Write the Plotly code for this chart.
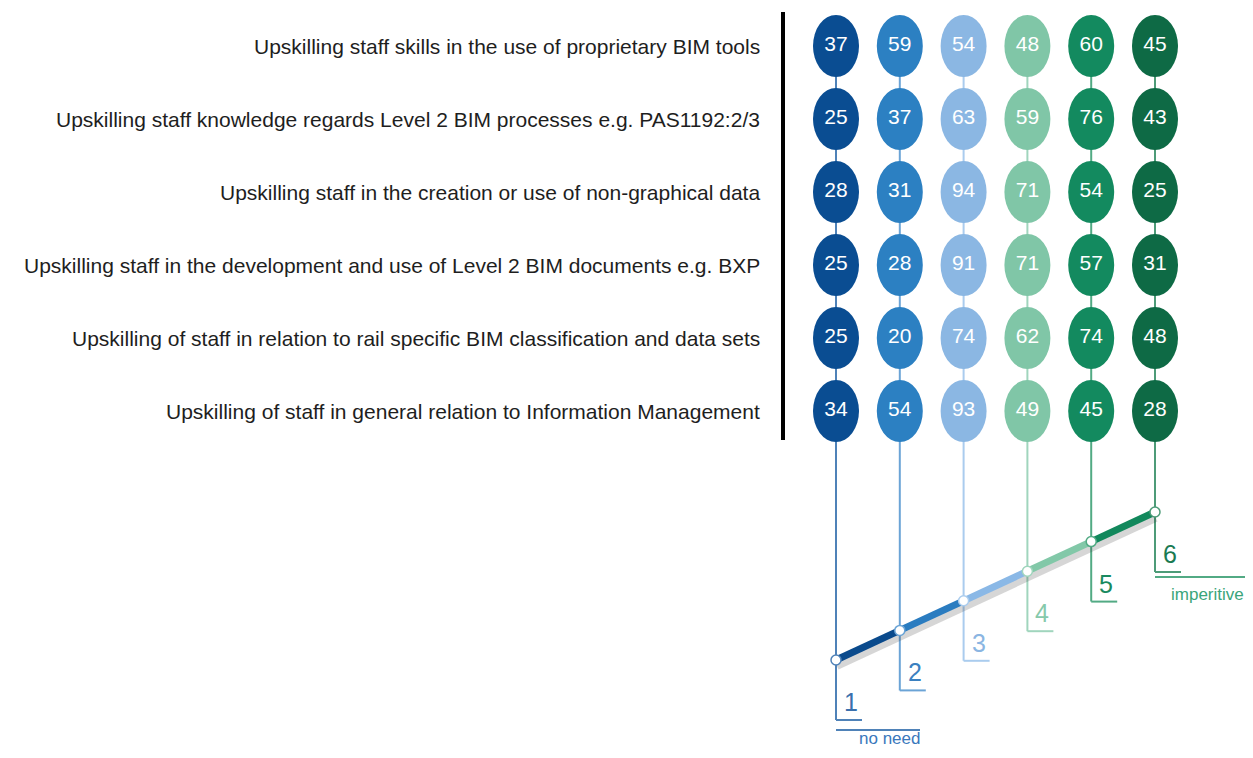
import plotly.graph_objects as go

# 数据
labels = [
    "Upskilling staff skills in the use of proprietary BIM tools",
    "Upskilling staff knowledge regards Level 2 BIM processes e.g. PAS1192:2/3",
    "Upskilling staff in the creation or use of non-graphical data",
    "Upskilling staff in the development and use of Level 2 BIM documents e.g. BXP",
    "Upskilling of staff in relation to rail specific BIM classification and data sets",
    "Upskilling of staff in general relation to Information Management",
]
levels = [1, 2, 3, 4, 5, 6]
counts = [
    [37, 59, 54, 48, 60, 45],
    [25, 37, 63, 59, 76, 43],
    [28, 31, 94, 71, 54, 25],
    [25, 28, 91, 71, 57, 31],
    [25, 20, 74, 62, 74, 48],
    [34, 54, 93, 49, 45, 28],
]
scale_low = "no need"
scale_high = "imperitive"

# 样式
circle_colors = ["#0a4d92", "#2c80c2", "#8bb7e3", "#80c6a7", "#138a5f", "#0e6a45"]
stem_colors = ["#4f82b8", "#6ba4d6", "#aaccee", "#a0d5bd", "#52aa84", "#4d9b78"]
label_colors = ["#3a70ad", "#3a80c0", "#8ab5e2", "#86c9ab", "#1a8a60", "#1a7a52"]
seg_colors = ["#0a4a8c", "#2a7cc0", "#8ab8e6", "#82c8a8", "#12885c"]
FONT = "Liberation Sans Narrow, Liberation Sans, Arial, sans-serif"

# 页面有 8px 的 body 边距, 图形尺寸相应缩小
OFF = 8
W, H = 1253 - 2 * OFF, 758 - 2 * OFF
PX_X = 63.8   # 每列像素
PX_Y = 73.0   # 每行像素
x0 = 1 - (836 - OFF) / PX_X
y0 = 1 - (46 - OFF) / PX_Y

rows = list(range(1, len(labels) + 1))

# 斜线位置 (行单位)
diag_base = 1 + (660 - 46) / PX_Y
diag_step = 29.6 / PX_Y
diag_y = [diag_base - diag_step * (lv - 1) for lv in levels]
bracket_y = [d + 60 / PX_Y for d in diag_y]

rx = 23 / PX_X
ry = 31 / PX_Y

fig = go.Figure()
shapes = []

# 竖线 + 刻度括号
for i, lv in enumerate(levels):
    shapes.append(dict(type="line", x0=lv, x1=lv, y0=rows[0], y1=bracket_y[i],
                       line=dict(color=stem_colors[i], width=2), layer="below"))
    shapes.append(dict(type="line", x0=lv, x1=lv + 26 / PX_X, y0=bracket_y[i], y1=bracket_y[i],
                       line=dict(color=stem_colors[i], width=2), layer="below"))

# 圆圈
for r, row_vals in zip(rows, counts):
    for i, lv in enumerate(levels):
        shapes.append(dict(type="circle", x0=lv - rx, x1=lv + rx, y0=r - ry, y1=r + ry,
                           fillcolor=circle_colors[i], line=dict(width=0), layer="below"))

# 黑色竖条
bar_x = 1 + (783 - 836) / PX_X
shapes.append(dict(type="line", x0=bar_x, x1=bar_x,
                   y0=1 + (12 - 46) / PX_Y, y1=1 + (440 - 46) / PX_Y,
                   line=dict(color="black", width=4)))

# no need / imperitive 下划线
low_y = diag_y[0] + 70 / PX_Y
high_y = diag_y[-1] + 65 / PX_Y
shapes.append(dict(type="line", x0=levels[0], x1=levels[0] + 84 / PX_X, y0=low_y, y1=low_y,
                   line=dict(color=stem_colors[0], width=2)))
shapes.append(dict(type="line", x0=levels[-1], x1=levels[-1] + 95 / PX_X, y0=high_y, y1=high_y,
                   line=dict(color=stem_colors[4], width=2)))

# 斜线阴影
fig.add_trace(go.Scatter(
    x=levels, y=[d + 4 / PX_Y for d in diag_y], mode="lines",
    line=dict(color="rgba(50,50,50,0.2)", width=12),
    hoverinfo="skip", showlegend=False
))

# 斜线分段
for i in range(len(levels) - 1):
    fig.add_trace(go.Scatter(
        x=levels[i:i + 2], y=diag_y[i:i + 2], mode="lines",
        line=dict(color=seg_colors[i], width=7),
        hoverinfo="skip", showlegend=False
    ))

fig.add_trace(go.Scatter(
    x=levels, y=diag_y, mode="markers",
    marker=dict(color="white", size=10, line=dict(color=stem_colors, width=1.5)),
    hoverinfo="skip", showlegend=False
))

# 圆圈数字
for r, row_vals in zip(rows, counts):
    fig.add_trace(go.Scatter(
        x=levels, y=[r] * len(levels), mode="text",
        text=[str(v) for v in row_vals],
        textfont=dict(color="white", size=21, family=FONT),
        hoverinfo="skip", showlegend=False
    ))

annotations = []
for r, lab in zip(rows, labels):
    annotations.append(dict(
        text=lab, x=(762 - OFF) / W, xref="paper", y=r, yref="y",
        xanchor="right", yanchor="middle", showarrow=False,
        font=dict(size=21, color="#1e1e1e", family=FONT)
    ))

for i, lv in enumerate(levels):
    annotations.append(dict(
        text=str(lv), x=lv + 6 / PX_X, y=bracket_y[i] - 2 / PX_Y,
        xanchor="left", yanchor="bottom", showarrow=False,
        font=dict(size=25, color=label_colors[i], family=FONT)
    ))

annotations.append(dict(
    text=scale_low, x=levels[0] + 53 / PX_X, y=0, yref="paper",
    xanchor="center", yanchor="bottom", showarrow=False,
    font=dict(size=17, color="#3a78bc", family=FONT)
))
annotations.append(dict(
    text=scale_high, x=levels[-1] + 52 / PX_X, y=high_y + 6 / PX_Y,
    xanchor="center", yanchor="top", showarrow=False,
    font=dict(size=17, color="#3aa57a", family=FONT)
))

fig.update_layout(
    width=W, height=H,
    margin=dict(l=0, r=0, t=0, b=0),
    paper_bgcolor="white",
    plot_bgcolor="white",
    shapes=shapes,
    annotations=annotations,
    showlegend=False,
    xaxis=dict(range=[x0, x0 + W / PX_X], visible=False, fixedrange=True),
    yaxis=dict(range=[y0 + H / PX_Y, y0], visible=False, fixedrange=True),
)

fig.write_html("out.html")
